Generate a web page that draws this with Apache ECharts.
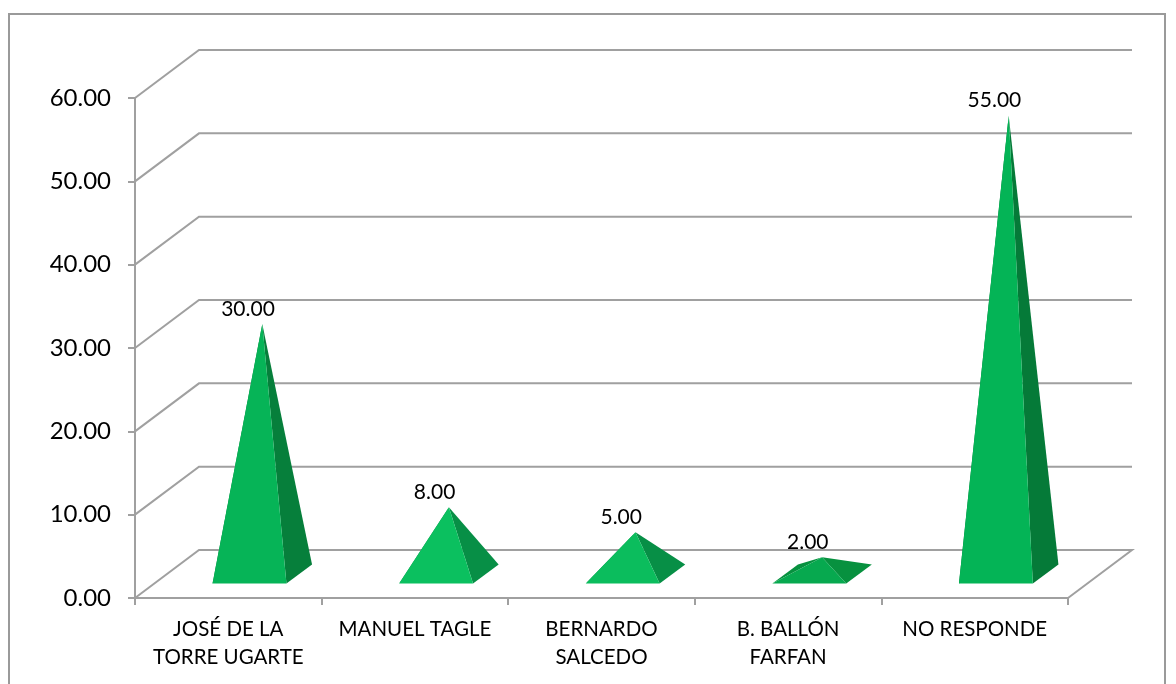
<!DOCTYPE html>
<html><head><meta charset="utf-8">
<style>html,body{margin:0;padding:0;background:#fff}#c{width:1176px;height:684px}</style>
<script src="https://cdn.jsdelivr.net/npm/echarts@6/dist/echarts.min.js"></script>
</head><body><div id="c"></div>
<script>
const categories = ['JOSÉ DE LA\nTORRE UGARTE','MANUEL TAGLE','BERNARDO\nSALCEDO','B. BALLÓN\nFARFAN','NO RESPONDE'];
const values = [30, 8, 5, 2, 55];
const wallTicks = [0, 10, 20, 30, 40, 50, 60];
const frontColors = ['#06b457','#0bc05f','#0bbd5d','#07a94f','#04b456'];
const sideColors = ['#067f3b','#078f46','#078f46','#07913f','#057a38'];

const FONT = 'Lato';
const GRID_COLOR = '#a0a0a0';
const DEPTH = [64, -48];
const NEAR = 0.30, FAR = 0.70;   // floor span of each pyramid across the depth
const BAR_SHIFT = 2;

function wallItem(params, api) {
  const v = api.value(0);
  const x0 = api.coord([0, v]);
  const left = params.coordSys.x;
  const right = left + params.coordSys.width;
  const y = x0[1];
  const pts = [[left, y], [left + DEPTH[0], y + DEPTH[1]], [right + DEPTH[0], y + DEPTH[1]]];
  if (v === 0) pts.push([right, y]);
  return {
    type: 'polyline',
    shape: { points: pts },
    style: { fill: null, stroke: GRID_COLOR, lineWidth: 2 }
  };
}

function pyramidItem(params, api) {
  const i = api.value(0);
  const base = api.coord([i, 0]);
  const top = api.coord([i, api.value(1)]);
  const halfW = api.size([1, 0])[0] * 0.198;
  const cx = base[0] + BAR_SHIFT;
  const p = (dx, f) => [cx + dx + DEPTH[0] * f, base[1] + DEPTH[1] * f];
  const FL = p(-halfW, NEAR), FR = p(halfW, NEAR), BL = p(-halfW, FAR), BR = p(halfW, FAR);
  const apex = [cx + DEPTH[0] * 0.5, top[1] + DEPTH[1] * 0.5];
  const front = frontColors[i], side = sideColors[i];
  const poly = (a, fill) => ({ type: 'polygon', shape: { points: a }, style: { fill } });
  return {
    type: 'group',
    children: [
      poly([FL, BL, apex], side),
      poly([FR, BR, apex], side),
      poly([FL, FR, apex], front),
      {
        type: 'text',
        style: {
          x: (FL[0] + FR[0]) / 2 - 1.5, y: apex[1] - 15,
          text: api.value(1).toFixed(2),
          fill: '#000', font: '21px ' + FONT, align: 'center', verticalAlign: 'middle'
        }
      }
    ]
  };
}

const chart = echarts.init(document.getElementById('c'), null, { renderer: 'canvas' });
chart.setOption({
  animation: false,
  backgroundColor: '#fff',
  graphic: [{
    type: 'rect', shape: { x: 9, y: 14, width: 1156, height: 690 },
    style: { fill: null, stroke: '#9a9a9a', lineWidth: 2 }, silent: true
  }],
  grid: { left: 135, right: 108, top: 98, bottom: 86, containLabel: false },
  xAxis: {
    type: 'category', data: categories,
    axisLine: { lineStyle: { color: GRID_COLOR, width: 2 } },
    axisTick: { show: true, length: 7, lineStyle: { color: GRID_COLOR, width: 2 } },
    axisLabel: { color: '#000', fontFamily: FONT, fontSize: 20.5, lineHeight: 28, margin: 17, interval: 0 }
  },
  yAxis: {
    type: 'value', min: 0, max: 60, interval: 10,
    axisLine: { show: true, lineStyle: { color: GRID_COLOR, width: 2 } },
    axisTick: { show: true, length: 7, lineStyle: { color: GRID_COLOR, width: 2 } },
    axisLabel: { color: '#000', fontFamily: FONT, fontSize: 24, margin: 24, padding: [4, 0, 0, 0], formatter: v => v.toFixed(2) },
    splitLine: { show: false }
  },
  series: [
    { type: 'custom', renderItem: wallItem, data: wallTicks.map(v => [v]), encode: { y: 0 }, silent: true, z: 1, clip: false },
    { type: 'custom', renderItem: pyramidItem, data: values.map((v, i) => [i, v]), encode: { x: 0, y: 1 }, z: 2, clip: false }
  ]
});
</script></body></html>
